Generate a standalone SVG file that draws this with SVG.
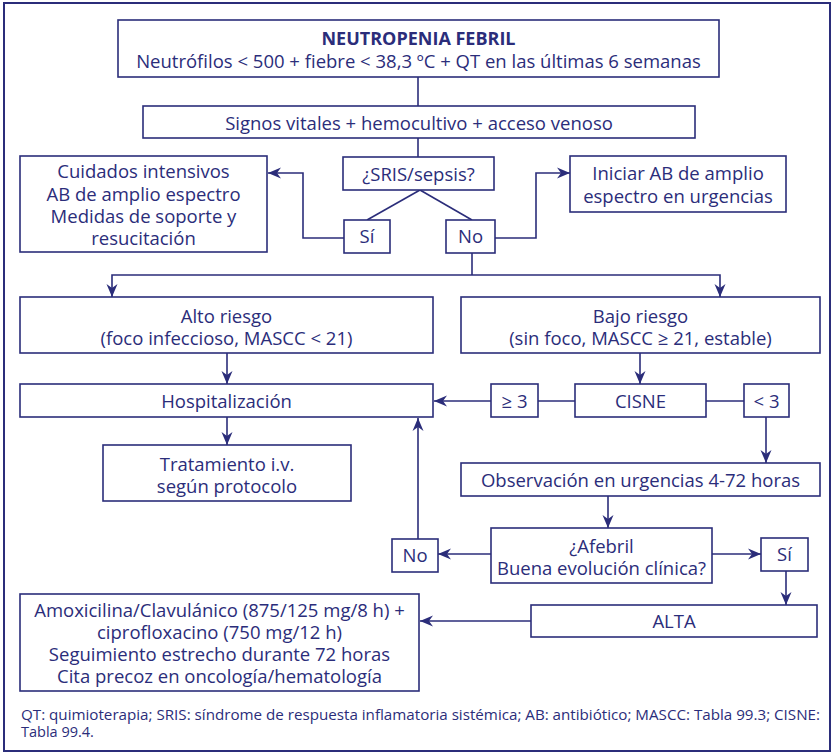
<svg xmlns="http://www.w3.org/2000/svg" width="833" height="754" viewBox="0 0 833 754">
<style>
.b{fill:#fff;stroke:#2b2d7a;stroke-width:1.6}
.t{font-family:"Open Sans","Liberation Sans",sans-serif;font-size:18.5px;fill:#2b2d7a;text-anchor:middle}
.tb{font-weight:bold;font-size:18px}
.c{fill:none;stroke:#2b2d7a;stroke-width:1.6}
.a{marker-end:url(#ah)}
.f{font-family:"Open Sans","Liberation Sans",sans-serif;font-size:14.5px;fill:#2b2d7a}
</style>
<defs>
<marker id="ah" markerUnits="userSpaceOnUse" markerWidth="14" markerHeight="12" refX="13" refY="6" orient="auto">
<path d="M0,0.5 L13,6 L0,11.5 L4,6 Z" fill="#2b2d7a"/>
</marker>
</defs>
<rect x="4" y="3" width="826" height="748" fill="#fff" stroke="#2b2d7a" stroke-width="2"/>
<g id="connectors">
<line class="c" x1="418" y1="77" x2="418" y2="106"/>
<line class="c" x1="418" y1="138" x2="418" y2="157"/>
<line class="c" x1="420" y1="190" x2="367" y2="220"/>
<line class="c" x1="420" y1="190" x2="472" y2="220"/>
<polyline class="c a" points="344,238 303,238 303,173 268,173"/>
<polyline class="c a" points="495,238 536,238 536,173 570,173"/>
<line class="c" x1="472" y1="253" x2="472" y2="275"/>
<polyline class="c a" points="472,275 112,275 112,297"/>
<polyline class="c a" points="472,275 720,275 720,297"/>
<line class="c a" x1="227" y1="353" x2="227" y2="384"/>
<line class="c a" x1="640" y1="353" x2="640" y2="384"/>
<line class="c" x1="575" y1="401" x2="538" y2="401"/>
<line class="c a" x1="491" y1="401" x2="434" y2="401"/>
<line class="c" x1="706" y1="401" x2="744" y2="401"/>
<line class="c a" x1="766" y1="417" x2="766" y2="463"/>
<line class="c a" x1="227" y1="417" x2="227" y2="445"/>
<line class="c a" x1="608" y1="496" x2="608" y2="528"/>
<line class="c a" x1="491" y1="554" x2="438" y2="554"/>
<line class="c a" x1="418" y1="539" x2="418" y2="418"/>
<line class="c a" x1="712" y1="554" x2="761" y2="554"/>
<line class="c a" x1="786" y1="571" x2="786" y2="605"/>
<line class="c a" x1="531" y1="621" x2="420" y2="621"/>
</g>
<g id="n1"><rect class="b" x="118" y="20" width="601" height="57"/>
<text class="t tb" x="418.5" y="45">NEUTROPENIA FEBRIL</text>
<text class="t" x="418.5" y="68">Neutrófilos &lt; 500 + fiebre &lt; 38,3 ºC + QT en las últimas 6 semanas</text></g>
<g id="n2"><rect class="b" x="143" y="106" width="552" height="32"/>
<text class="t" x="419" y="130">Signos vitales + hemocultivo + acceso venoso</text></g>
<g id="sris"><rect class="b" x="343" y="157" width="151" height="33"/>
<text class="t" x="418.5" y="181">¿SRIS/sepsis?</text></g>
<g id="si1"><rect class="b" x="344" y="220" width="46" height="33"/>
<text class="t" x="367" y="243">Sí</text></g>
<g id="no1"><rect class="b" x="446" y="220" width="49" height="33"/>
<text class="t" x="470.5" y="243">No</text></g>
<g id="cuid"><rect class="b" x="20" y="156" width="247" height="96"/>
<text class="t" x="143.5" y="178">Cuidados intensivos</text>
<text class="t" x="143.5" y="201">AB de amplio espectro</text>
<text class="t" x="143.5" y="223">Medidas de soporte y</text>
<text class="t" x="143.5" y="245">resucitación</text></g>
<g id="inic"><rect class="b" x="570" y="156" width="216" height="56"/>
<text class="t" x="678" y="180">Iniciar AB de amplio</text>
<text class="t" x="678" y="203">espectro en urgencias</text></g>
<g id="alto"><rect class="b" x="20" y="297" width="413" height="56"/>
<text class="t" x="226.5" y="323">Alto riesgo</text>
<text class="t" x="226.5" y="345">(foco infeccioso, MASCC &lt; 21)</text></g>
<g id="bajo"><rect class="b" x="461" y="297" width="359" height="56"/>
<text class="t" x="640.5" y="323">Bajo riesgo</text>
<text class="t" x="640.5" y="345">(sin foco, MASCC ≥ 21, estable)</text></g>
<g id="hosp"><rect class="b" x="20" y="384" width="413" height="33"/>
<text class="t" x="226.5" y="408">Hospitalización</text></g>
<g id="ge3"><rect class="b" x="491" y="384" width="47" height="33"/>
<text class="t" x="514.5" y="408">≥ 3</text></g>
<g id="cisne"><rect class="b" x="575" y="384" width="131" height="33"/>
<text class="t" x="640.5" y="408">CISNE</text></g>
<g id="lt3"><rect class="b" x="744" y="384" width="45" height="33"/>
<text class="t" x="766.5" y="408">&lt; 3</text></g>
<g id="trat"><rect class="b" x="103" y="445" width="248" height="56"/>
<text class="t" x="227" y="471">Tratamiento i.v.</text>
<text class="t" x="227" y="493">según protocolo</text></g>
<g id="obs"><rect class="b" x="461" y="463" width="359" height="33"/>
<text class="t" x="640.5" y="487">Observación en urgencias 4-72 horas</text></g>
<g id="afeb"><rect class="b" x="491" y="528" width="221" height="55"/>
<text class="t" x="601.5" y="553">¿Afebril</text>
<text class="t" x="601.5" y="575">Buena evolución clínica?</text></g>
<g id="no2"><rect class="b" x="392" y="539" width="46" height="33"/>
<text class="t" x="415" y="562">No</text></g>
<g id="si2"><rect class="b" x="761" y="538" width="47" height="33"/>
<text class="t" x="784.5" y="561">Sí</text></g>
<g id="alta"><rect class="b" x="531" y="605" width="286" height="32"/>
<text class="t" x="674" y="628">ALTA</text></g>
<g id="amox"><rect class="b" x="20" y="594" width="399" height="97"/>
<text class="t" x="219.5" y="617">Amoxicilina/Clavulánico (875/125 mg/8 h) +</text>
<text class="t" x="219.5" y="639">ciprofloxacino (750 mg/12 h)</text>
<text class="t" x="219.5" y="661">Seguimiento estrecho durante 72 horas</text>
<text class="t" x="219.5" y="683">Cita precoz en oncología/hematología</text></g>
<g id="footnote">
<text class="f" x="21" y="720" textLength="799" lengthAdjust="spacingAndGlyphs">QT: quimioterapia; SRIS: síndrome de respuesta inflamatoria sistémica; AB: antibiótico; MASCC: Tabla 99.3; CISNE:</text>
<text class="f" x="21" y="737">Tabla 99.4.</text>
</g>
</svg>
